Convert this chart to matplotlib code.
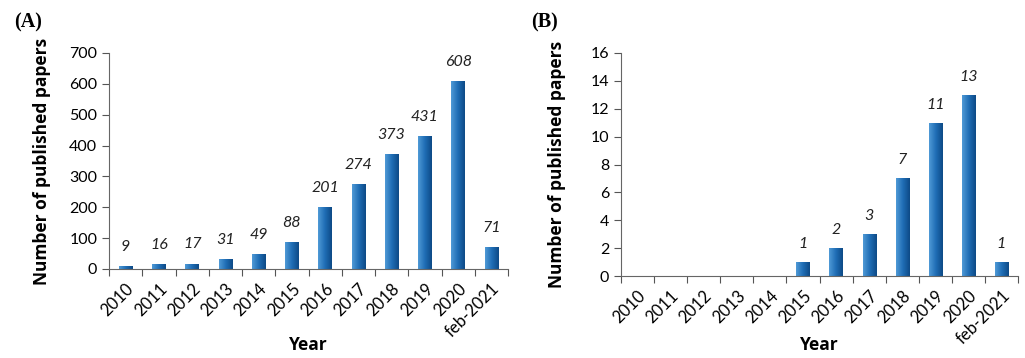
import matplotlib.pyplot as plt
import numpy as np
from matplotlib.colors import LinearSegmentedColormap

years = ['2010', '2011', '2012', '2013', '2014', '2015', '2016', '2017',
         '2018', '2019', '2020', 'feb-2021']
papers_all = [9, 16, 17, 31, 49, 88, 201, 274, 373, 431, 608, 71]
papers_sub = [0, 0, 0, 0, 0, 1, 2, 3, 7, 11, 13, 1]

num_font = 'Lato'
bar_cmap = LinearSegmentedColormap.from_list('bar', ['#4f9ad6', '#1f6db5', '#0d4a86'])
grad = np.linspace(0, 1, 64).reshape(1, -1)


def draw_panel(ax, values, ymax, ystep, label_off, xlab_y, ylab_x):
    x = np.arange(len(values))
    bars = ax.bar(x, values, width=0.4, color='#1f6db5', linewidth=0)
    # horizontal shading inside each bar
    for b, v in zip(bars, values):
        if v <= 0:
            continue
        x0, w = b.get_x(), b.get_width()
        im = ax.imshow(grad, cmap=bar_cmap, aspect='auto',
                       extent=(x0, x0 + w, 0, v), zorder=2)
        im.set_clip_path(b)
        ax.text(x0 + w / 2, v + label_off, str(v),
                ha='center', va='bottom', style='italic', fontsize=11.5,
                family=num_font, color='#222222')
    ax.set_xlim(-0.5, len(values) - 0.5)
    ax.set_ylim(0, ymax)
    ax.set_yticks(np.arange(0, ymax + ystep / 2, ystep))
    ax.set_xticks(np.arange(-0.5, len(values), 1.0))
    ax.set_xticklabels([])
    ax.set_xticks(x, minor=True)
    ax.set_xticklabels(years, minor=True, rotation=45, ha='right',
                       rotation_mode='anchor', fontsize=12, family=num_font)
    ax.tick_params(axis='x', which='minor', length=0, pad=8)
    ax.tick_params(axis='x', which='major', length=5, direction='out',
                   color='#555555')
    ax.tick_params(axis='y', length=5, direction='out', color='#555555',
                   labelsize=11.5)
    for t in ax.get_yticklabels():
        t.set_family(num_font)
    for side in ['top', 'right']:
        ax.spines[side].set_visible(False)
    for side in ['left', 'bottom']:
        ax.spines[side].set_color('#666666')
    ax.set_xlabel('Year', fontsize=12.5, fontweight='bold', family='Open Sans',
                  va='center')
    ax.set_ylabel('Number of published papers', fontsize=12.5,
                  fontweight='bold', family='Open Sans', va='center')
    ax.xaxis.set_label_coords(0.5, xlab_y)
    ax.yaxis.set_label_coords(ylab_x, 0.5)


fig = plt.figure(figsize=(10.25, 3.58), dpi=100)
ax1 = fig.add_axes([109 / 1025, 1 - 269 / 358, 399 / 1025, 216 / 358])
ax2 = fig.add_axes([621 / 1025, 1 - 276 / 358, 397 / 1025, 223 / 358])

draw_panel(ax1, papers_all, 700, 100, 40, (269 - 345) / 216, (42 - 109) / 399)
draw_panel(ax2, papers_sub, 16, 2, 0.8, (276 - 345) / 223, (557 - 621) / 397)

fig.text(14 / 1025, 1 - 22 / 358, '(A)', fontsize=14.5, fontweight='bold',
         family='Liberation Serif', va='center')
fig.text(531 / 1025, 1 - 22 / 358, '(B)', fontsize=14.5, fontweight='bold',
         family='Liberation Serif', va='center')

fig.savefig('out.png', dpi=100)
